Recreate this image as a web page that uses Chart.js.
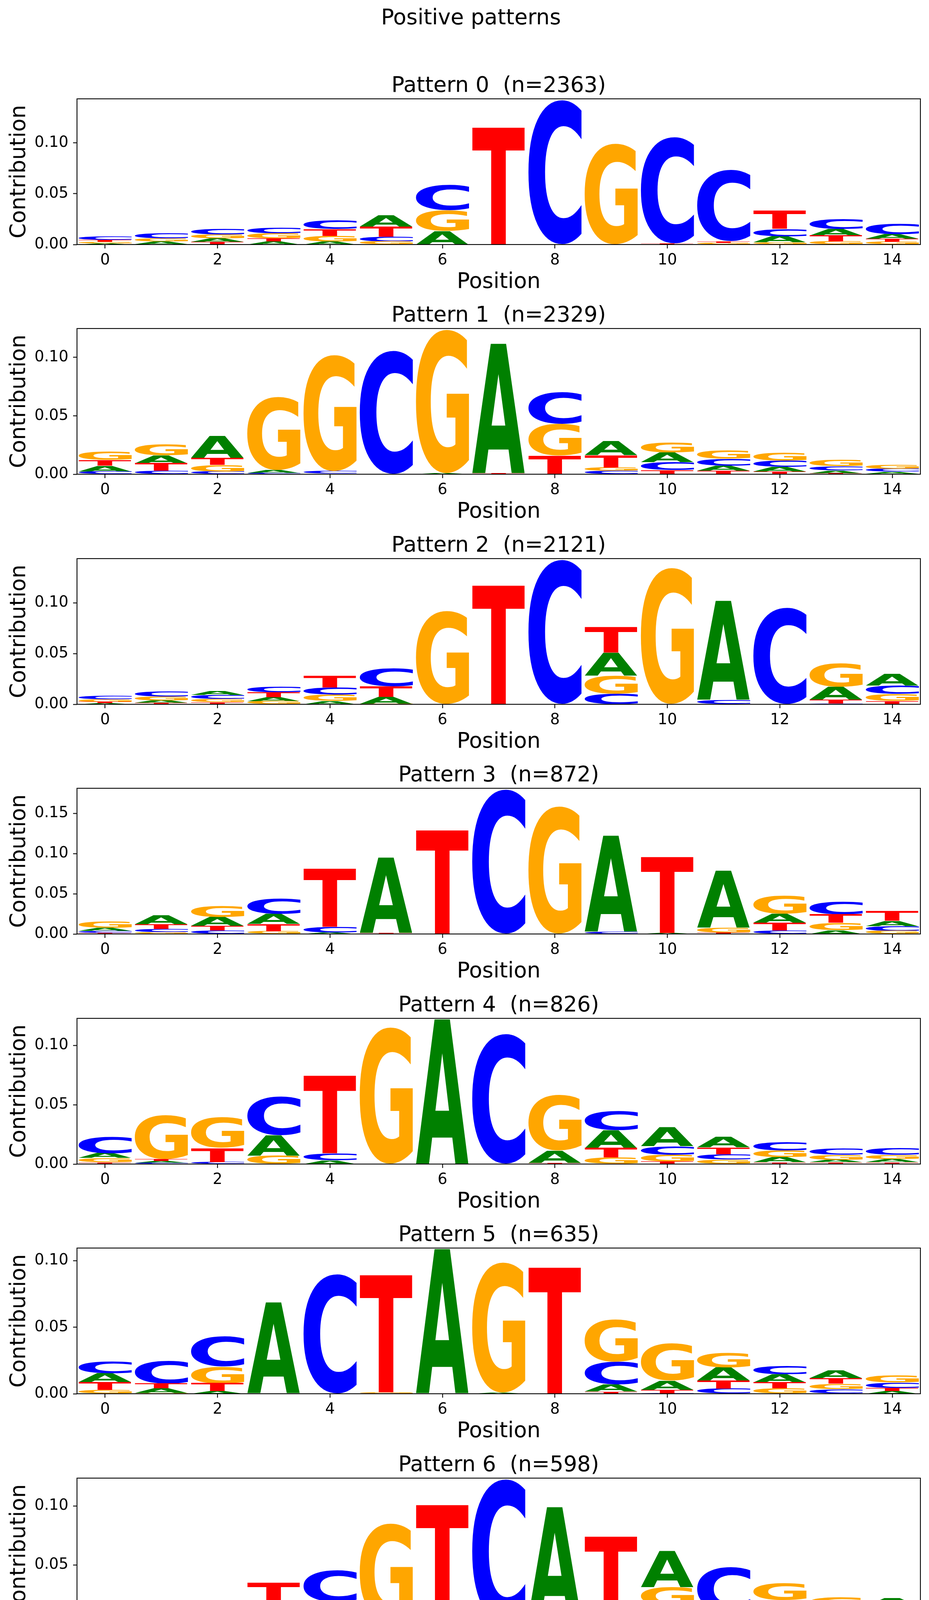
<!DOCTYPE html>
<html>
<head>
<meta charset="utf-8">
<title>Positive patterns</title>
<script src="https://cdn.jsdelivr.net/npm/chart.js@4.4.1/dist/chart.umd.min.js"></script>
<style>
  html, body { margin: 0; padding: 0; background: #fff; }
  #page { position: relative; width: 2377px; height: 6070px; overflow: hidden; background: #fff; }
  #suptitle {
    position: absolute;
    top: 16px;
    left: 1205px;
    transform: translateX(-50%);
    font-family: "DejaVu Sans";
    font-size: 55px;
    line-height: 55px;
    white-space: nowrap;
    color: #000;
  }
  .panel { position: absolute; left: 0; width: 2377px; height: 588px; }
</style>
</head>
<body>
<div id="page"><div id="suptitle">Positive patterns</div></div>
<script>
const LETTERS = ["A", "C", "G", "T"];
const LETTER_COLORS = { A: "#008000", C: "#0000ff", G: "#ffa600", T: "#ff0000" };
const POSITIONS = [0, 1, 2, 3, 4, 5, 6, 7, 8, 9, 10, 11, 12, 13, 14];
const X_TICKS = [0, 2, 4, 6, 8, 10, 12, 14];
const PATTERN_SIZES = [2363, 2329, 2121, 872, 826, 635, 598, 339, 329, 324];
const Y_TICK_STEPS = [0.05, 0.05, 0.05, 0.05, 0.05, 0.05, 0.05, 0.05, 0.05, 0.02];

// one row per pattern, one value per position
const A_CONTRIB = [
  [0.0012, 0.0026, 0.0033, 0.0029, 0.0031, 0.0108, 0.0134, 0, 0, 0, 0, 0, 0.0059, 0.0063, 0.0045],
  [0.0047, 0.0067, 0.0188, 0.0025, 0.0005, 0, 0.0008, 0.1114, 0, 0.0123, 0.0084, 0.0042, 0.0038, 0.0023, 0.0017],
  [0.0011, 0.0024, 0.0041, 0.0039, 0.0034, 0.0070, 0, 0, 0, 0.0229, 0, 0.0980, 0, 0.0126, 0.0116],
  [0.0035, 0.0115, 0.0112, 0.0124, 0.0018, 0.0942, 0, 0, 0, 0.1200, 0.0012, 0.0712, 0.0112, 0.0048, 0.0064],
  [0.0041, 0.0015, 0, 0.0172, 0.0031, 0, 0.1228, 0, 0.0104, 0.0151, 0.0160, 0.0091, 0.0044, 0.0021, 0.0027],
  [0.0068, 0.0035, 0.0020, 0.0686, 0, 0, 0.1090, 0.0008, 0, 0.0052, 0.0070, 0.0098, 0.0061, 0.0059, 0.0021],
  [0.0017, 0.0043, 0.0031, 0.0066, 0.0052, 0.0025, 0, 0, 0.0928, 0, 0.0306, 0.0041, 0.0056, 0.0058, 0.0068],
  [0.0021, 0.0359, 0.0034, 0.0039, 0, 0.0008, 0, 0.1390, 0, 0.0005, 0.0238, 0.0016, 0.0152, 0, 0.0021],
  [0.0038, 0.0026, 0.0059, 0.0136, 0.0008, 0.0004, 0, 0, 0.0005, 0.1539, 0, 0.0607, 0, 0.0004, 0.0110],
  [0.0013, 0.0159, 0.0030, 0.0248, 0.0051, 0.0340, 0.0028, 0.0332, 0.0004, 0.0606, 0, 0.0303, 0.0016, 0.0190, 0.0030],
];
const C_CONTRIB = [
  [0.0034, 0.0053, 0.0059, 0.0056, 0.0086, 0.0045, 0.0250, 0, 0.1433, 0, 0.1055, 0.0709, 0.0073, 0.0098, 0.0102],
  [0.0025, 0.0031, 0.0023, 0.0010, 0.0020, 0.1066, 0, 0, 0.0274, 0.0028, 0.0067, 0.0059, 0.0052, 0.0038, 0.0025],
  [0.0038, 0.0053, 0.0040, 0.0056, 0.0072, 0.0181, 0, 0, 0.1435, 0.0106, 0, 0.0046, 0.0959, 0.0007, 0.0082],
  [0.0025, 0.0039, 0.0045, 0.0194, 0.0073, 0, 0, 0.1812, 0, 0.0027, 0, 0, 0.0042, 0.0158, 0.0060],
  [0.0139, 0.0010, 0.0017, 0.0330, 0.0060, 0, 0, 0.1106, 0, 0.0160, 0.0073, 0.0046, 0.0073, 0.0052, 0.0056],
  [0.0089, 0.0172, 0.0227, 0, 0.0906, 0.0004, 0, 0, 0, 0.0170, 0.0004, 0.0039, 0.0065, 0.0035, 0.0041],
  [0.0062, 0.0039, 0.0058, 0.0031, 0.0273, 0, 0, 0.1231, 0, 0.0079, 0.0140, 0.0376, 0.0107, 0.0052, 0.0045],
  [0.0110, 0.0016, 0, 0.0029, 0.0005, 0, 0, 0.0021, 0.1463, 0.1157, 0, 0.0115, 0.0033, 0.0081, 0.0033],
  [0.0027, 0.0022, 0.0044, 0.0074, 0.0473, 0, 0, 0.0110, 0.1761, 0, 0.1187, 0, 0.0536, 0.0056, 0],
  [0.0020, 0.0041, 0.0009, 0.0045, 0.0024, 0.0034, 0, 0.0177, 0, 0, 0.0019, 0.0042, 0.0020, 0.0046, 0.0025],
];
const G_CONTRIB = [
  [0.0015, 0.0030, 0.0039, 0.0053, 0.0055, 0.0031, 0.0202, 0, 0, 0.1000, 0, 0.0014, 0.0022, 0.0031, 0.0027],
  [0.0073, 0.0094, 0.0056, 0.0629, 0.1003, 0, 0.1239, 0, 0.0272, 0.0030, 0.0088, 0.0071, 0.0069, 0.0052, 0.0036],
  [0.0025, 0.0039, 0.0031, 0.0031, 0.0060, 0.0005, 0.0927, 0, 0, 0.0176, 0.1355, 0, 0, 0.0232, 0.0068],
  [0.0075, 0.0024, 0.0139, 0.0036, 0, 0, 0, 0, 0.1600, 0.0004, 0, 0.0060, 0.0227, 0.0091, 0.0039],
  [0.0037, 0.0371, 0.0259, 0.0073, 0, 0.1162, 0, 0, 0.0471, 0.0056, 0.0058, 0.0037, 0.0056, 0.0041, 0.0037],
  [0.0030, 0.0005, 0.0124, 0, 0, 0.0007, 0, 0.0987, 0, 0.0319, 0.0280, 0.0111, 0.0041, 0.0041, 0.0055],
  [0.0037, 0.0027, 0.0062, 0.0062, 0, 0.0833, 0.0008, 0, 0.0068, 0.0010, 0.0153, 0, 0.0145, 0.0083, 0.0066],
  [0, 0.0060, 0.0479, 0, 0.0979, 0, 0.1529, 0.0065, 0.0005, 0, 0.0623, 0.0118, 0.0050, 0.0060, 0.0105],
  [0.0053, 0.0040, 0.0020, 0.0095, 0, 0.0965, 0.1324, 0, 0, 0, 0, 0.0062, 0, 0, 0.0133],
  [0.0186, 0.0049, 0.0253, 0.0043, 0.0232, 0.0079, 0.0611, 0.0006, 0.0750, 0.0009, 0.0504, 0.0030, 0.0334, 0.0029, 0.0202],
];
const T_CONTRIB = [
  [0.0018, 0.0005, 0.0027, 0.0030, 0.0067, 0.0102, 0, 0.1157, 0, 0, 0.0010, 0.0016, 0.0181, 0.0059, 0.0029],
  [0.0049, 0.0063, 0.0061, 0, 0, 0, 0, 0.0010, 0.0161, 0.0105, 0.0036, 0.0031, 0.0025, 0.0008, 0.0005],
  [0.0013, 0.0014, 0.0022, 0.0048, 0.0116, 0.0104, 0, 0.1176, 0, 0.0254, 0, 0, 0, 0.0038, 0.0034],
  [0.0015, 0.0058, 0.0055, 0.0088, 0.0724, 0.0015, 0.1297, 0, 0, 0, 0.0951, 0.0018, 0.0097, 0.0106, 0.0118],
  [0.0015, 0.0017, 0.0118, 0, 0.0658, 0, 0, 0, 0.0010, 0.0079, 0.0021, 0.0058, 0.0015, 0.0015, 0.0015],
  [0.0057, 0.0037, 0.0061, 0.0005, 0, 0.0886, 0.0005, 0, 0.0954, 0.0017, 0.0026, 0.0061, 0.0044, 0.0042, 0.0022],
  [0.0019, 0.0052, 0.0045, 0.0192, 0.0134, 0, 0.1006, 0.0005, 0, 0.0655, 0.0020, 0.0068, 0.0037, 0.0031, 0.0037],
  [0.0081, 0, 0, 0.0720, 0, 0.1238, 0.0030, 0.0013, 0, 0, 0, 0.0243, 0.0038, 0.0092, 0.0036],
  [0.0015, 0.0012, 0.0104, 0.0008, 0.0246, 0.0008, 0.0008, 0.1489, 0, 0, 0.0027, 0.0041, 0.0030, 0.0320, 0.0004],
  [0.0024, 0.0030, 0.0035, 0.0028, 0.0077, 0.0028, 0, 0.0016, 0, 0.0012, 0.0020, 0.0024, 0.0022, 0.0022, 0.0022],
];

const CONTRIB_BY_LETTER = { A: A_CONTRIB, C: C_CONTRIB, G: G_CONTRIB, T: T_CONTRIB };

const FIRST_AXES_TOP = 252.7;
const PANEL_SPACING = 588.5;
const CANVAS_WIDTH = 2377;
const CANVAS_HEIGHT = 588;
const TITLE_AXIS_HEIGHT = 80;
const X_AXIS_HEIGHT = 135;
const Y_AXIS_WIDTH = 197;
const RIGHT_PAD = 22;
const FONT_FAMILY = "DejaVu Sans";
const GLYPH_FONT = 'bold 400px "DejaVu Sans"';
const LINE_WIDTH = 2.2;

Chart.defaults.color = "#000";
Chart.defaults.font.family = FONT_FAMILY;

const glyphMetrics = {};

function getGlyphMetrics(ctx, letter) {
  if (!glyphMetrics[letter]) {
    ctx.save();
    ctx.font = GLYPH_FONT;
    const m = ctx.measureText(letter);
    ctx.restore();
    glyphMetrics[letter] = {
      left: m.actualBoundingBoxLeft,
      right: m.actualBoundingBoxRight,
      ascent: m.actualBoundingBoxAscent,
      descent: m.actualBoundingBoxDescent,
    };
  }
  return glyphMetrics[letter];
}

// letters stacked smallest at the bottom, biggest on top
function stackPattern(p) {
  const stacks = { A: [], C: [], G: [], T: [] };
  POSITIONS.forEach(function (pos) {
    const column = LETTERS.map(function (letter) {
      return { letter: letter, value: CONTRIB_BY_LETTER[letter][p][pos] };
    }).sort(function (a, b) {
      return a.value - b.value;
    });
    let floor = 0;
    column.forEach(function (item) {
      if (item.value > 0) {
        stacks[item.letter].push({ x: pos, y: [floor, floor + item.value] });
        floor += item.value;
      }
    });
  });
  return stacks;
}

function columnMax(p) {
  return Math.max.apply(
    null,
    POSITIONS.map(function (pos) {
      return LETTERS.reduce(function (sum, letter) {
        return sum + CONTRIB_BY_LETTER[letter][p][pos];
      }, 0);
    }),
  );
}

const logoGlyphPlugin = {
  id: "logoGlyphs",
  afterDatasetsDraw: function (chart) {
    const ctx = chart.ctx;
    const area = chart.chartArea;
    ctx.save();
    ctx.beginPath();
    ctx.rect(area.left, area.top, area.right - area.left, area.bottom - area.top);
    ctx.clip();
    chart.data.datasets.forEach(function (dataset, d) {
      const meta = chart.getDatasetMeta(d);
      const letter = dataset.label;
      const g = getGlyphMetrics(ctx, letter);
      const gw = g.left + g.right;
      const gh = g.ascent + g.descent;
      meta.data.forEach(function (bar) {
        const props = bar.getProps(["x", "y", "base", "width"], true);
        const top = Math.min(props.y, props.base);
        const h = Math.abs(props.base - props.y);
        if (h < 0.2) {
          return;
        }
        ctx.save();
        ctx.font = GLYPH_FONT;
        ctx.fillStyle = LETTER_COLORS[letter];
        ctx.textAlign = "left";
        ctx.textBaseline = "alphabetic";
        ctx.translate(props.x - props.width / 2, top);
        ctx.scale(props.width / gw, h / gh);
        ctx.fillText(letter, g.left, g.ascent);
        ctx.restore();
      });
    });
    ctx.restore();

    ctx.save();
    ctx.strokeStyle = "#000";
    ctx.lineWidth = LINE_WIDTH;
    ctx.strokeRect(area.left, area.top, area.right - area.left, area.bottom - area.top);
    ctx.restore();
  },
};

function createPatternChart(p) {
  const panel = document.createElement("div");
  panel.className = "panel";
  panel.style.top = FIRST_AXES_TOP + p * PANEL_SPACING - TITLE_AXIS_HEIGHT + "px";
  const canvas = document.createElement("canvas");
  canvas.width = CANVAS_WIDTH;
  canvas.height = CANVAS_HEIGHT;
  panel.appendChild(canvas);
  document.getElementById("page").appendChild(panel);

  const stacks = stackPattern(p);
  const yMax = columnMax(p);
  const yStep = Y_TICK_STEPS[p];

  const tickFont = { family: FONT_FAMILY, size: 39, lineHeight: 1 };
  const labelFont = { family: FONT_FAMILY, size: 55, lineHeight: 1 };

  new Chart(canvas.getContext("2d"), {
    type: "bar",
    data: {
      datasets: LETTERS.map(function (letter) {
        return {
          label: letter,
          data: stacks[letter],
          backgroundColor: "rgba(0, 0, 0, 0)",
          borderWidth: 0,
          grouped: false,
          barPercentage: 0.95,
          categoryPercentage: 1,
        };
      }),
    },
    options: {
      responsive: false,
      devicePixelRatio: 1,
      animation: false,
      events: [],
      layout: {
        padding: { left: 0, right: RIGHT_PAD, top: 0, bottom: 0 },
      },
      plugins: {
        legend: { display: false },
        tooltip: { enabled: false },
        title: { display: false },
      },
      scales: {
        x: {
          type: "linear",
          position: "bottom",
          min: -0.5,
          max: 14.5,
          offset: false,
          afterBuildTicks: function (scale) {
            scale.ticks = X_TICKS.map(function (v) {
              return { value: v };
            });
          },
          afterFit: function (scale) {
            scale.height = X_AXIS_HEIGHT;
          },
          ticks: {
            font: tickFont,
            padding: 11,
            maxRotation: 0,
            autoSkip: false,
            callback: function (value) {
              return String(value);
            },
          },
          grid: {
            display: true,
            offset: false,
            drawOnChartArea: false,
            drawTicks: true,
            tickLength: 10,
            tickWidth: LINE_WIDTH,
            tickColor: "#000",
          },
          border: { display: false },
          title: {
            display: true,
            text: "Position",
            font: labelFont,
            padding: { top: 0, bottom: 11 },
          },
        },
        top: {
          type: "linear",
          position: "top",
          min: -0.5,
          max: 14.5,
          afterFit: function (scale) {
            scale.height = TITLE_AXIS_HEIGHT;
          },
          ticks: { display: false },
          grid: { display: false },
          border: { display: false },
          title: {
            display: true,
            text: "Pattern " + p + "  (n=" + PATTERN_SIZES[p] + ")",
            font: labelFont,
            padding: { top: 20, bottom: 0 },
          },
        },
        y: {
          type: "linear",
          min: 0,
          max: yMax,
          afterBuildTicks: function (scale) {
            const ticks = [];
            for (let k = 0; k * yStep <= yMax + 1e-9; k++) {
              ticks.push({ value: Number((k * yStep).toFixed(4)) });
            }
            scale.ticks = ticks;
          },
          afterFit: function (scale) {
            scale.width = Y_AXIS_WIDTH;
          },
          ticks: {
            font: tickFont,
            padding: 12,
            callback: function (value) {
              return Number(value).toFixed(2);
            },
          },
          grid: {
            display: true,
            drawOnChartArea: false,
            drawTicks: true,
            tickLength: 10,
            tickWidth: LINE_WIDTH,
            tickColor: "#000",
          },
          border: { display: false },
          title: {
            display: true,
            text: "Contribution",
            font: labelFont,
            padding: { top: 22, bottom: 0 },
          },
        },
      },
    },
    plugins: [logoGlyphPlugin],
  });
}

window.addEventListener("DOMContentLoaded", function () {
  PATTERN_SIZES.forEach(function (n, p) {
    createPatternChart(p);
  });
});
</script>
</body>
</html>
